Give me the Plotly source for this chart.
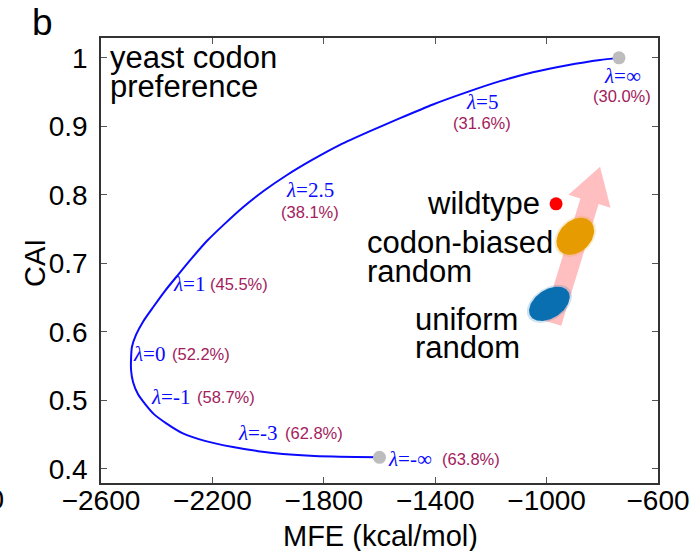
import numpy as np
import plotly.graph_objects as go

# ---------------- data ----------------
# Pareto curve: MFE (kcal/mol) vs CAI, from lambda=+inf (top) to lambda=-inf (bottom)
curve_mfe = [-740, -808, -930, -1049, -1167, -1286, -1408, -1526, -1634, -1742,
             -1842, -1932, -2015, -2090, -2158, -2219, -2273, -2324, -2370, -2413,
             -2449, -2474, -2489, -2492, -2492, -2485, -2467, -2442, -2410, -2367,
             -2306, -2227, -2126, -2036, -1947, -1767, -1600]
curve_cai = [1.000, 0.997, 0.989, 0.979, 0.966, 0.950, 0.932, 0.912, 0.893, 0.873,
             0.851, 0.829, 0.806, 0.782, 0.757, 0.733, 0.708, 0.683, 0.660, 0.636,
             0.615, 0.596, 0.578, 0.562, 0.544, 0.527, 0.509, 0.495, 0.480, 0.467,
             0.452, 0.441, 0.432, 0.426, 0.422, 0.418, 0.417]

# extreme points (lambda = +inf, -inf)
end_mfe = [-740, -1600]
end_cai = [1.000, 0.417]

# wildtype
wt_mfe = [-966]
wt_cai = [0.787]

# random-sequence clouds: centre, half-extent (x, y), correlation
cloud_names = ["uniform random", "codon-biased random"]
cloud_mfe = [-990, -897]
cloud_cai = [0.641, 0.7395]
cloud_rx = [81, 75]
cloud_ry = [0.0278, 0.030]
cloud_rho = [0.4, 0.3]

# trend arrow (start -> tip)
arrow_mfe = [-980, -808]
arrow_cai = [0.613, 0.841]

# lambda labels and GC-content percentages
lam_text = ["∞", "5", "2.5", "1", "0", "-1", "-3", "-∞"]
pct_text = ["(30.0%)", "(31.6%)", "(38.1%)", "(45.5%)", "(52.2%)", "(58.7%)", "(62.8%)", "(63.8%)"]

x_ticks = [-2600, -2200, -1800, -1400, -1000, -600]
y_ticks = [0.4, 0.5, 0.6, 0.7, 0.8, 0.9, 1.0]
y_tick_text = ["0.4", "0.5", "0.6", "0.7", "0.8", "0.9", "1"]

# ---------------- layout constants ----------------
W, H = 691, 551
ML, MR, MT, MB = 101, 33, 38, 68
XR = [-2600, -600]
YR = [0.3795, 1.029]
pw, ph = W - ML - MR, H - MT - MB
sx = pw / (XR[1] - XR[0])   # px per data unit
sy = ph / (YR[1] - YR[0])


def px_x(p):
    return (p - ML) / pw


def px_y(p):
    return 1 - (p - MT) / ph


BLUE = "#0a0aff"
PCT = "#a3205c"
SANS = "Liberation Sans, Arial, sans-serif"
SERIF = "Liberation Serif, Times New Roman, serif"

fig = go.Figure()

# arrow polygon built in pixel space from the arrow data
x0, y0 = arrow_mfe[0] * sx, arrow_cai[0] * sy
x1, y1 = arrow_mfe[1] * sx, arrow_cai[1] * sy
L = np.hypot(x1 - x0, y1 - y0)
ux, uy = (x1 - x0) / L, (y1 - y0) / L
nx, ny = -uy, ux
shaft_w, head_w, head_l = 19, 44, 36
bx, by = x1 - ux * head_l, y1 - uy * head_l
poly = [
    (x0 + nx * shaft_w / 2, y0 + ny * shaft_w / 2),
    (bx + nx * shaft_w / 2, by + ny * shaft_w / 2),
    (bx + nx * head_w / 2, by + ny * head_w / 2),
    (x1, y1),
    (bx - nx * head_w / 2, by - ny * head_w / 2),
    (bx - nx * shaft_w / 2, by - ny * shaft_w / 2),
    (x0 - nx * shaft_w / 2, y0 - ny * shaft_w / 2),
]
fig.add_trace(go.Scatter(
    x=[p[0] / sx for p in poly] + [poly[0][0] / sx],
    y=[p[1] / sy for p in poly] + [poly[0][1] / sy],
    mode="lines", fill="toself", fillcolor="#ffbfc0",
    line=dict(width=0, color="#ffbfc0"), hoverinfo="skip", showlegend=False))

# clouds drawn as tilted ellipses
t = np.linspace(0, 2 * np.pi, 120)
cloud_cols = ["#0a6fb0", "#e69b00"]
for i in range(2):
    for scale, op in [(1.0, 0.2), (0.9, 1.0)]:
        ex = cloud_mfe[i] + scale * cloud_rx[i] * np.cos(t)
        ey = cloud_cai[i] + scale * cloud_ry[i] * (
            cloud_rho[i] * np.cos(t) + np.sqrt(1 - cloud_rho[i] ** 2) * np.sin(t))
        fig.add_trace(go.Scatter(
            x=ex, y=ey, mode="lines", fill="toself", fillcolor=cloud_cols[i],
            opacity=op, line=dict(width=0, color=cloud_cols[i]),
            name=cloud_names[i], hoverinfo="skip", showlegend=False))

# Pareto curve
fig.add_trace(go.Scatter(x=curve_mfe, y=curve_cai, mode="lines",
                         line=dict(color=BLUE, width=2, shape="spline", smoothing=0.6),
                         showlegend=False))
# end points
fig.add_trace(go.Scatter(x=end_mfe, y=end_cai, mode="markers",
                         marker=dict(color="#bdbdbd", size=13), showlegend=False))
# wildtype
fig.add_trace(go.Scatter(x=wt_mfe, y=wt_cai, mode="markers",
                         marker=dict(color="#ff0000", size=13), showlegend=False))

ann = []
# lambda labels: (lambda x, lambda y, anchor, pct x, pct y)
lam_pos = [
    (-729, 0.973, "center", -729, 0.945),
    (-1232, 0.936, "center", -1232, 0.905),
    (-1850, 0.807, "center", -1850, 0.775),
    (-2350, 0.670, "left", -2216, 0.670),
    (-2494, 0.568, "left", -2352, 0.568),
    (-2428, 0.505, "left", -2262, 0.505),
    (-2116, 0.452, "left", -1947, 0.452),
    (-1576, 0.414, "left", -1383, 0.414),
]
for lt, pt, (lx, ly, anc, px_, py_) in zip(lam_text, pct_text, lam_pos):
    ann.append(dict(x=lx, y=ly, xref="x", yref="y", text="<i>λ</i>=" + lt,
                    showarrow=False, xanchor=anc, yanchor="middle",
                    font=dict(family=SERIF, size=21, color=BLUE)))
    ann.append(dict(x=px_, y=py_, xref="x", yref="y", text=pt,
                    showarrow=False, xanchor=anc, yanchor="middle",
                    font=dict(family=SANS, size=16.5, color=PCT)))

big = dict(family=SANS, size=31, color="#000000")
for txt, x, y, anc in [
    ("yeast codon", -2575, 1.0, "left"),
    ("preference", -2575, 0.958, "left"),
    ("wildtype", -1016, 0.787, "right"),
    ("codon-biased", -1652, 0.730, "left"),
    ("random", -1652, 0.688, "left"),
    ("uniform", -1480, 0.618, "left"),
    ("random", -1480, 0.578, "left"),
]:
    ann.append(dict(x=x, y=y, xref="x", yref="y", text=txt, showarrow=False,
                    xanchor=anc, yanchor="middle", font=big))

# panel letter and axis titles
ann.append(dict(x=px_x(42), y=px_y(0), xref="paper", yref="paper", text="b",
                showarrow=False, xanchor="center", yanchor="top",
                font=dict(family=SANS, size=37, color="#000")))
ann.append(dict(x=px_x(35), y=px_y(263), xref="paper", yref="paper",
                text="CAI", textangle=-90, showarrow=False,
                xanchor="center", yanchor="middle", font=dict(family=SANS, size=29, color="#000")))
ann.append(dict(x=px_x(380), y=px_y(536), xref="paper", yref="paper",
                text="MFE (kcal/mol)", showarrow=False,
                xanchor="center", yanchor="middle", font=dict(family=SANS, size=29, color="#000")))
# clipped tick label of the neighbouring panel
ann.append(dict(x=px_x(6), y=px_y(499), xref="paper", yref="paper",
                text="-600", showarrow=False, xanchor="right", yanchor="middle",
                font=dict(family=SANS, size=28, color="#000")))

axis_common = dict(showgrid=False, zeroline=False, showline=True, linecolor="#333333",
                   linewidth=1.5, mirror="ticks", ticks="inside", ticklen=6,
                   tickcolor="#555555", tickwidth=1, automargin=False,
                   tickfont=dict(family=SANS, size=28, color="#000"))

fig.update_layout(
    width=W, height=H, autosize=False,
    margin=dict(l=ML, r=MR, t=MT, b=MB, autoexpand=False),
    paper_bgcolor="white", plot_bgcolor="white",
    xaxis=dict(range=XR, tickvals=x_ticks, ticklabelstandoff=-8, **axis_common),
    yaxis=dict(range=YR, tickvals=y_ticks, ticktext=y_tick_text, ticklabelstandoff=6,
               **axis_common),
    annotations=ann, showlegend=False,
)

fig.write_html("out.html")
